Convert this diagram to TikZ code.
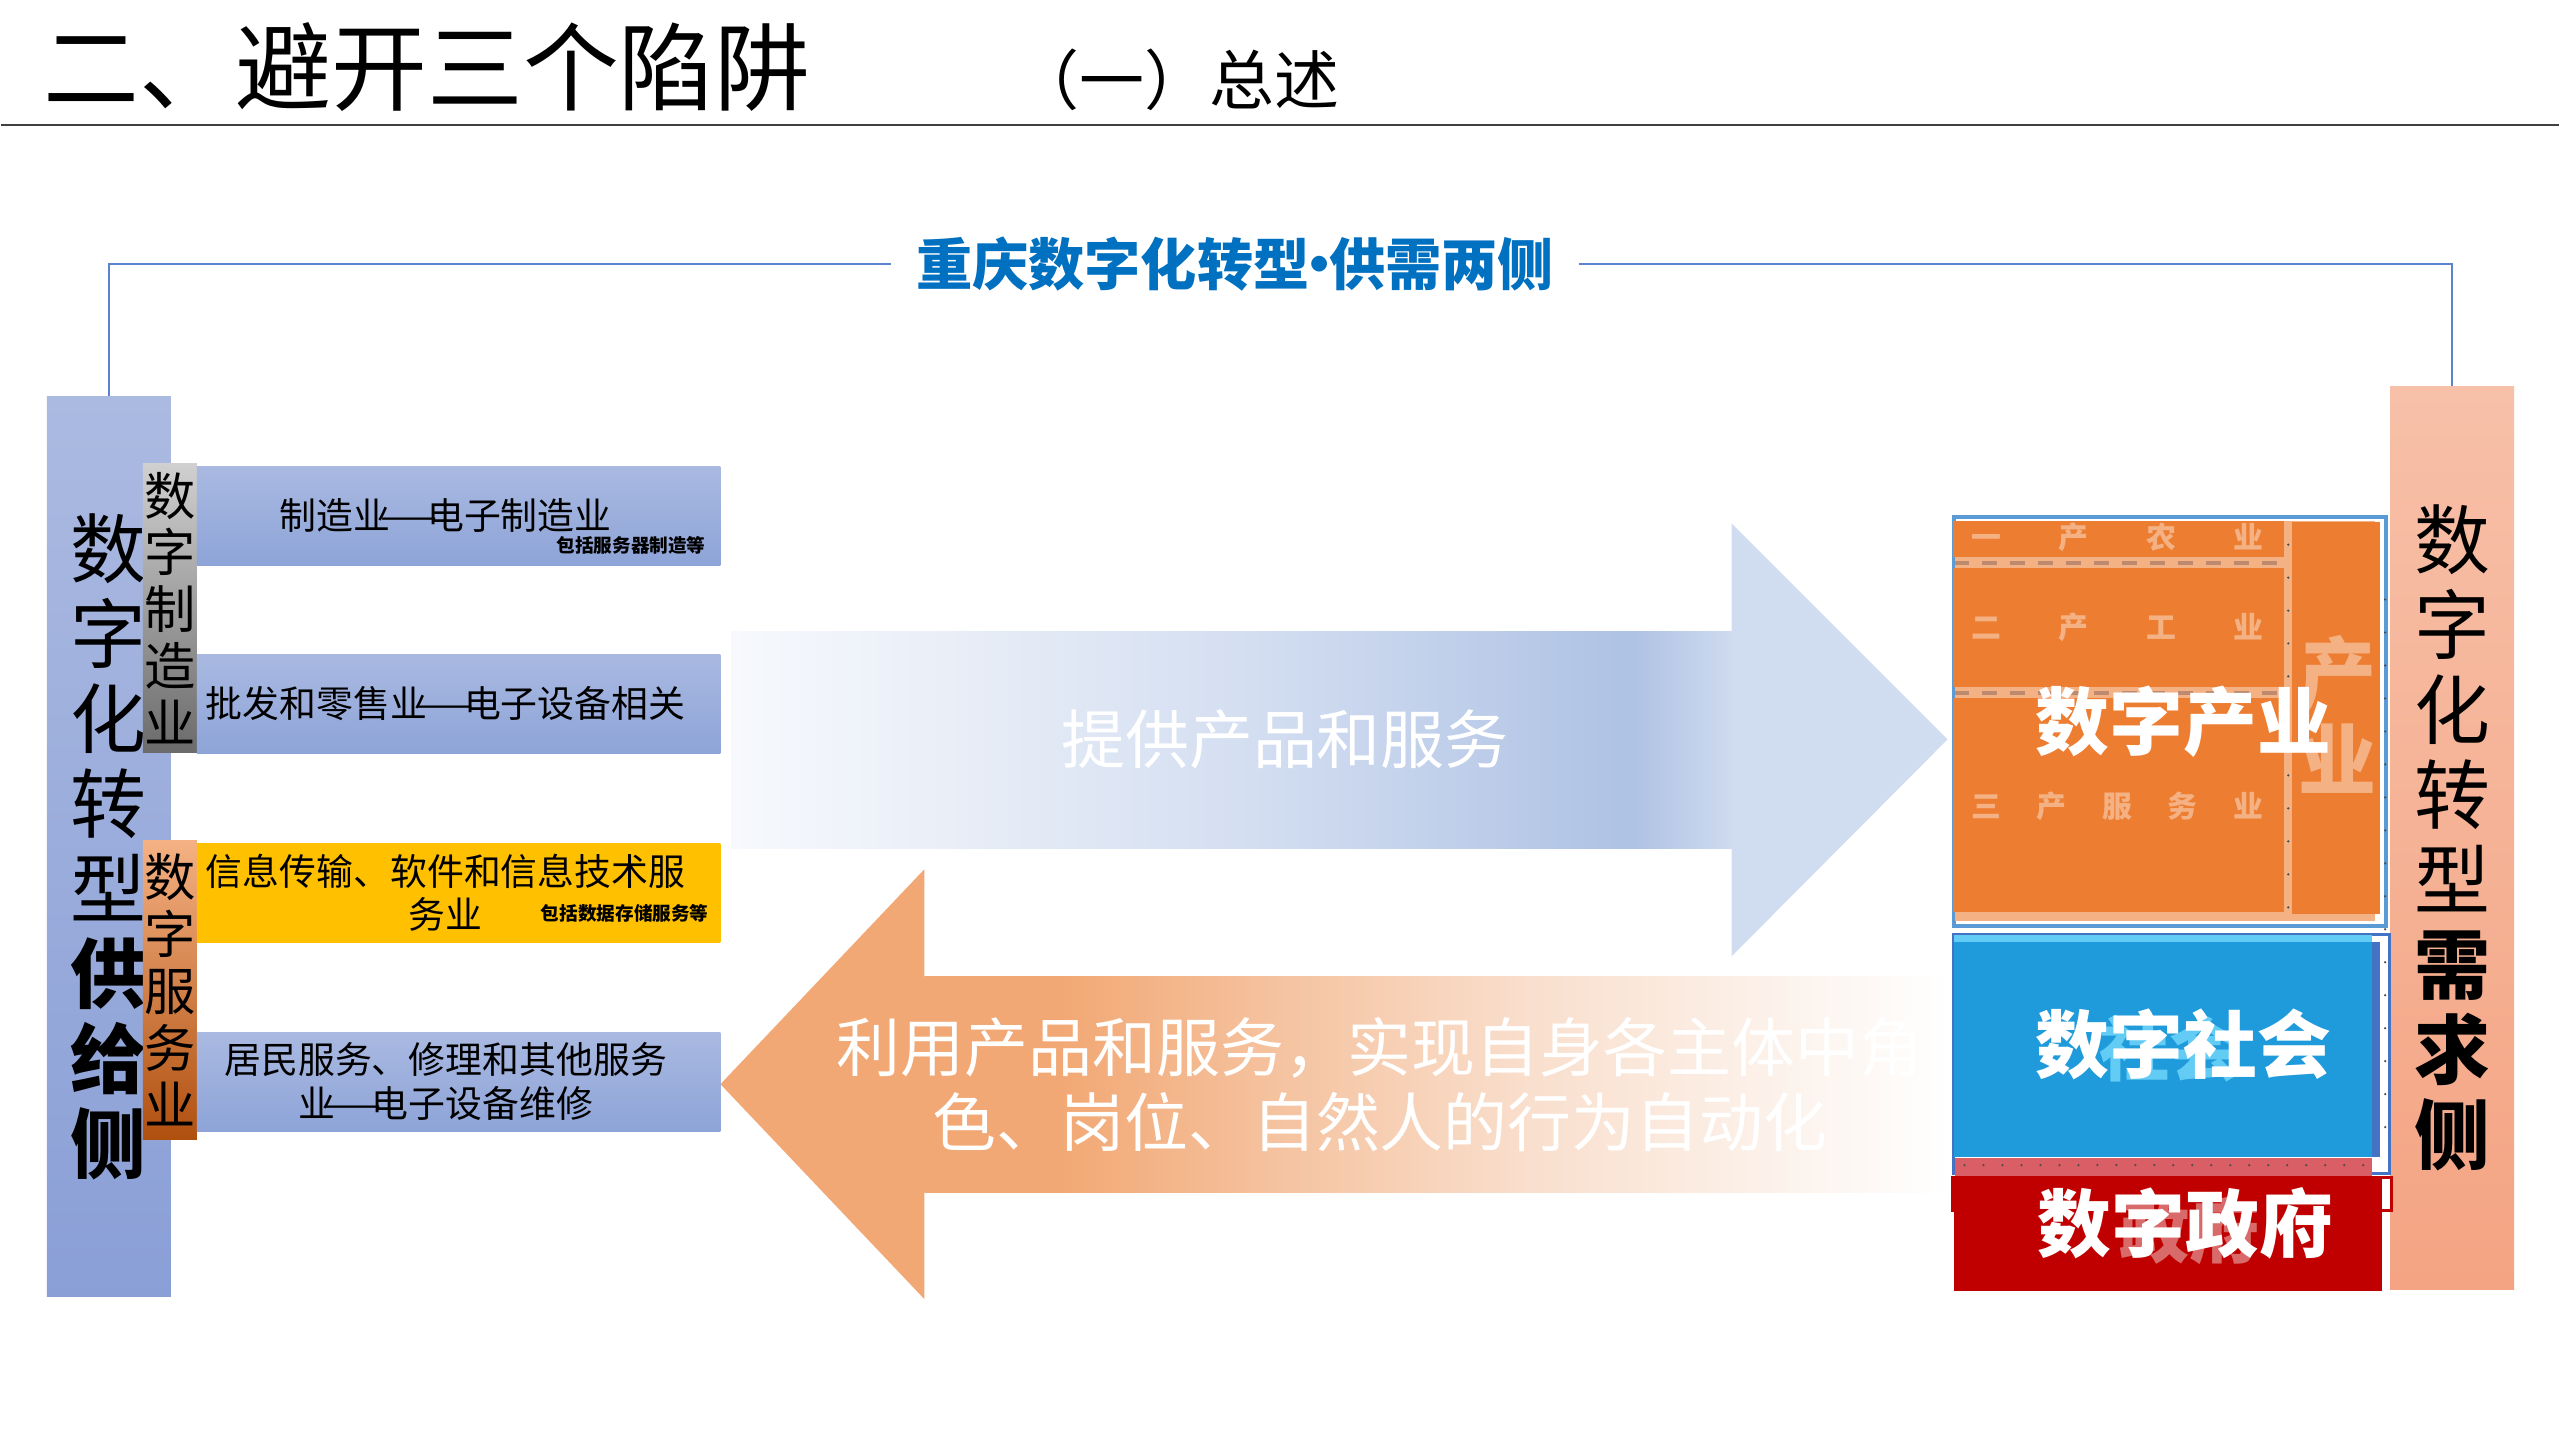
\documentclass[tikz,border=0pt]{standalone}
\usepackage{fontspec}
\setmainfont{Noto Sans CJK SC}
\usetikzlibrary{positioning}
\definecolor{supplytop}{HTML}{ABBAE1}
\definecolor{supplybottom}{HTML}{8A9FD6}
\definecolor{demandtop}{HTML}{F7C0A8}
\definecolor{demandbottom}{HTML}{F4A483}
\definecolor{sectortop}{HTML}{A9B9E1}
\definecolor{sectorbottom}{HTML}{8EA4D8}
\definecolor{graytop}{HTML}{D0D0D0}
\definecolor{graybottom}{HTML}{6B6B6B}
\definecolor{servicetop}{HTML}{F4B183}
\definecolor{servicebottom}{HTML}{B0500F}
\definecolor{infoyellow}{HTML}{FFC000}
\definecolor{headblue}{HTML}{0070C0}
\definecolor{frameblue}{HTML}{5B83D0}
\definecolor{provA}{HTML}{F7F9FD}
\definecolor{provB}{HTML}{E6ECF6}
\definecolor{provC}{HTML}{D3DEF1}
\definecolor{provD}{HTML}{C0CFEA}
\definecolor{provE}{HTML}{AEC2E4}
\definecolor{provF}{HTML}{CEDAEF}
\definecolor{provhead}{HTML}{D0DCEF}
\definecolor{useA}{HTML}{F2A874}
\definecolor{useB}{HTML}{F5C3A0}
\definecolor{useC}{HTML}{F9DFCD}
\definecolor{useD}{HTML}{FCF2EB}
\definecolor{useE}{HTML}{FFFFFF}
\definecolor{industrydeep}{HTML}{ED7D31}
\definecolor{industrylight}{HTML}{F4B183}
\definecolor{industryframe}{HTML}{5B9BD5}
\definecolor{dashbrown}{HTML}{BE8A6F}
\definecolor{societyblue}{HTML}{1F9ADB}
\definecolor{societylight}{HTML}{63CCF5}
\definecolor{societyframe}{HTML}{4472C4}
\definecolor{govred}{HTML}{C00000}
\definecolor{govpink}{HTML}{DA5E66}
\definecolor{govghost}{HTML}{D86A6A}
\pgfdeclarehorizontalshading{provideflow}{100bp}{color(0bp)=(provA); color(25bp)=(provA); color(38bp)=(provB); color(51bp)=(provC); color(61bp)=(provD); color(70bp)=(provE); color(75bp)=(provF); color(100bp)=(provF)}
\pgfdeclarehorizontalshading{useflow}{100bp}{color(0bp)=(useA); color(25bp)=(useA); color(31.6bp)=(useA); color(42.3bp)=(useB); color(54.5bp)=(useC); color(66.6bp)=(useD); color(75bp)=(useE); color(100bp)=(useE)}
\newcommand{\longdash}{\makebox[1em]{\scalebox{1.8}[1]{—}}}
\newcommand{\middot}{\makebox[0.35em]{·}}
\tikzset{
    side-bar/.style = {rectangle, inner sep=0pt, minimum width=12.4mm, align=center, font=\fontsize{21.6}{24.2}\selectfont},
    sub-bar/.style = {rectangle, inner sep=0pt, minimum width=5.4mm, align=center, font=\fontsize{14.6}{16.2}\selectfont},
    sector-box/.style = {rectangle, inner sep=0pt, minimum width=52.4mm, minimum height=9.9mm, top color=sectortop, bottom color=sectorbottom},
    sector-text/.style = {inner sep=0pt, align=center, font=\fontsize{10.5}{12.5}\selectfont},
    sector-note/.style = {inner sep=0pt, font=\bfseries\fontsize{5.3}{6}\selectfont},
    flow-text/.style = {inner sep=0pt, align=center, text=white, font=\fontsize{18.2}{21.3}\selectfont},
    field-title/.style = {inner sep=0pt, text=white, font=\bfseries\fontsize{21}{24}\selectfont},
    field-ghost/.style = {inner sep=0pt, font=\bfseries\fontsize{20}{24}\selectfont},
    industry-row/.style = {inner sep=0pt, text=industrylight, font=\bfseries\fontsize{8.5}{10}\selectfont},
    row-dash/.style = {draw=dashbrown, line width=0.4mm, dash pattern=on 1.5mm off 1.3mm},
    handle-dots/.style = {draw=black!70, line width=0.25mm, line cap=round, dash pattern=on 0mm off 3.3mm},
    frame-line/.style = {draw=frameblue, line width=0.2mm},
}
\begin{document}
\begin{tikzpicture}[x=0.1mm, y=-0.1mm]
\fill[white] (0,0) rectangle (2560,1440);
\node[anchor=west, inner sep=0pt, font=\fontsize{27.3}{30}\selectfont] (title) at (42,67) {二、避开三个陷阱};
\node[inner sep=0pt, font=\fontsize{18.5}{21}\selectfont] (overview) at (1177,80) {（一）总述};
\draw[draw=black!75, line width=0.2mm] (0,125) -- (2560,125);

\node[side-bar, minimum height=90.1mm, top color=supplytop, bottom color=supplybottom] (supply) at (108,847.5) {数\\字\\化\\转\\型\\{\bfseries 供}\\{\bfseries 给}\\{\bfseries 侧}};
\node[side-bar, minimum height=90.3mm, top color=demandtop, bottom color=demandbottom] (demand) at (2453,838.5) {数\\字\\化\\转\\型\\{\bfseries 需}\\{\bfseries 求}\\{\bfseries 侧}};
\node[inner sep=0pt, inner xsep=2.4mm, text=headblue, font=\bfseries\fontsize{16}{18}\selectfont] (header) at (1235,264) {重庆数字化转型\middot 供需两侧};
\draw[frame-line] (supply.north) |- (header.west);
\draw[frame-line] (header.east) -| (demand.north);

\shade[shading=provideflow] (731,632) rectangle (1732,849);
\fill[provhead] (1732,524) -- (1948,740) -- (1732,957) -- cycle;
\node[flow-text] (provide) at (1285,740) {提供产品和服务};
\fill[useA] (924,870) -- (720,1085) -- (924,1300) -- cycle;
\shade[shading=useflow] (924,977) rectangle (1952,1193);
\node[flow-text] (apply) at (1380,1085) {利用产品和服务，实现自身各主体中角\\色、岗位、自然人的行为自动化};

\draw[draw=industryframe, line width=0.4mm, fill=white] (1954,517) rectangle (2387,927);
\fill[industrylight] (1955,521) rectangle (2376,922);
\fill[industrydeep] (1953,521) rectangle (2285,557);
\fill[industrydeep] (1953,568) rectangle (2285,688);
\fill[industrydeep] (1953,699) rectangle (2285,913);
\fill[industrydeep] (2293,522) rectangle (2381,915);
\draw[row-dash] (1955,563) -- (2285,563);
\draw[row-dash] (1955,694) -- (2285,694);
\draw[handle-dots] (2289,545) -- (2289,912);
\node[industry-row] (primary) at (2118,538) {\makebox[29.2mm]{一\hfill 产\hfill 农\hfill 业}};
\node[industry-row] (secondary) at (2118,628) {\makebox[29.2mm]{二\hfill 产\hfill 工\hfill 业}};
\node[industry-row] (tertiary) at (2118,807) {\makebox[29.2mm]{三\hfill 产\hfill 服\hfill 务\hfill 业}};
\node[field-ghost, align=center, text=industrylight, font=\bfseries\fontsize{22.2}{25}\selectfont] (industry-column) at (2338,715) {产\\业};
\node[field-title] (industry) at (2184,722) {数字产业};

\draw[draw=societyframe, line width=0.3mm, fill=white] (1954,935) rectangle (2390,1174);
\fill[govpink] (1955,1159) rectangle (2373,1177);
\fill[societylight] (1954,936) rectangle (2373,943);
\fill[societyblue] (1954,943) rectangle (2373,1158);
\fill[societyframe] (2373,943) rectangle (2381,1158);
\draw[handle-dots, dash pattern=on 0mm off 1.9mm] (1965,1166) -- (2370,1166);
\draw[handle-dots] (2386,600) -- (2386,1160);
\node[field-ghost, text=societylight] (society-ghost) at (2170,1049) {社会};
\node[field-title] (society) at (2184,1045) {数字社会};

\draw[draw=govred, line width=0.3mm, fill=white] (1953,1178) rectangle (2392,1211);
\fill[govred] (1954,1179) rectangle (2383,1292);
\node[field-ghost, text=govghost] (government-ghost) at (2190,1232) {政府};
\node[field-title] (government) at (2186,1224) {数字政府};

\node[sub-bar, minimum height=28.9mm, top color=graytop, bottom color=graybottom] (manufacturing) at (169,608.5) {数\\字\\制\\造\\业};
\node[sub-bar, minimum height=29.9mm, top color=servicetop, bottom color=servicebottom] (services) at (169,990.5) {数\\字\\服\\务\\业};

\node[sector-box] (electronics) at (458,516) {};
\node[sector-box] (retail) at (458,704.5) {};
\node[sector-box, top color=infoyellow, bottom color=infoyellow] (software) at (458,893.5) {};
\node[sector-box] (repair) at (458,1082.5) {};
\node[sector-text] (electronics-text) at ([xshift=-1.3mm]electronics.center) {制造业\longdash 电子制造业};
\node[sector-note, above left=1.1mm and 1.5mm] (electronics-note) at (electronics.south east) {包括服务器制造等};
\node[sector-text] (retail-text) at ([xshift=-1.3mm]retail.center) {批发和零售业\longdash 电子设备相关};
\node[sector-text] (software-text) at ([xshift=-1.3mm]software.center) {信息传输、软件和信息技术服\\务业};
\node[sector-note, above left=2mm and 1.2mm] (software-note) at (software.south east) {包括数据存储服务等};
\node[sector-text] (repair-text) at ([xshift=-1.3mm]repair.center) {居民服务、修理和其他服务\\业\longdash 电子设备维修};
\end{tikzpicture}
\end{document}
